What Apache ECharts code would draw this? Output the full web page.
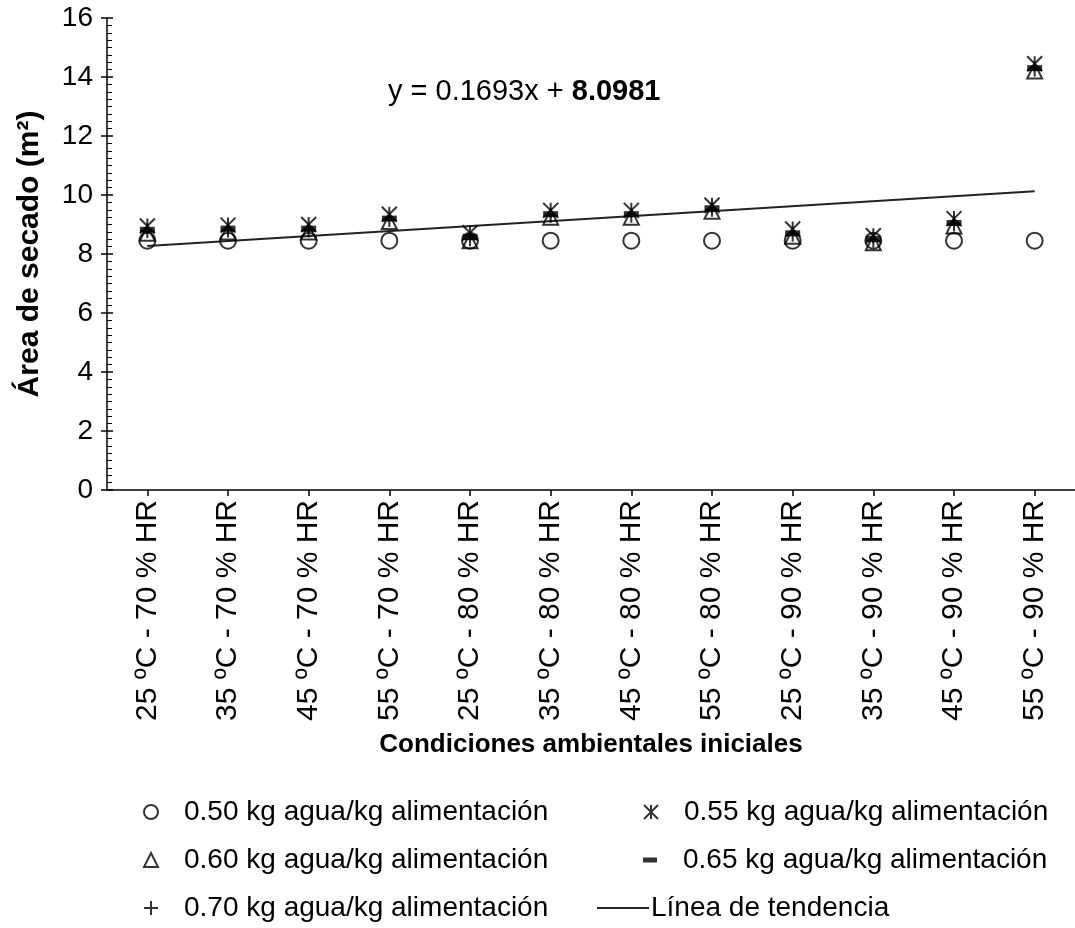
<!DOCTYPE html>
<html>
<head>
<meta charset="utf-8">
<script src="https://cdn.jsdelivr.net/npm/echarts@6/dist/echarts.min.js"></script>
<style>
  html, body { margin: 0; padding: 0; background: #fff; }
  #chart { width: 1075px; height: 928px; }
</style>
</head>
<body>
<div id="chart"></div>
<script>
// categorías (condiciones ambientales)
const categories = [
  '25 ºC - 70 % HR', '35 ºC - 70 % HR', '45 ºC - 70 % HR', '55 ºC - 70 % HR',
  '25 ºC - 80 % HR', '35 ºC - 80 % HR', '45 ºC - 80 % HR', '55 ºC - 80 % HR',
  '25 ºC - 90 % HR', '35 ºC - 90 % HR', '45 ºC - 90 % HR', '55 ºC - 90 % HR'
];
const s050 = [8.45, 8.45, 8.45, 8.45, 8.45, 8.45, 8.45, 8.45, 8.45, 8.45, 8.45, 8.45];
const s055 = [8.95, 8.98, 9.0, 9.35, 8.72, 9.48, 9.48, 9.65, 8.85, 8.62, 9.2, 14.45];
const s060 = [8.7, 8.75, 8.75, 9.1, 8.45, 9.25, 9.25, 9.45, 8.6, 8.38, 8.95, 14.2];
const s065 = [8.82, 8.86, 8.86, 9.2, 8.58, 9.35, 9.35, 9.55, 8.7, 8.52, 9.05, 14.3];
const s070 = [8.78, 8.8, 8.8, 9.15, 8.5, 9.3, 9.3, 9.5, 8.65, 8.45, 9.0, 14.25];
// línea de tendencia: extremos (primera y última categoría)
const trendEnds = [8.27, 10.13];

const names = [
  '0.50 kg agua/kg alimentación',
  '0.55 kg agua/kg alimentación',
  '0.60 kg agua/kg alimentación',
  '0.65 kg agua/kg alimentación',
  '0.70 kg agua/kg alimentación',
  'Línea de tendencia'
];

const FONT = 'Liberation Sans, Arial, sans-serif';
const strokeOnly = { color: 'transparent', borderColor: '#000', borderWidth: 2 };

const chart = echarts.init(document.getElementById('chart'));

function legendAt(name, left, top, extra) {
  return Object.assign({
    data: [name], left: left, top: top, padding: 0,
    itemWidth: 14, itemHeight: 14,
    textStyle: { fontFamily: FONT, fontSize: 28, lineHeight: 28, color: '#000', padding: [0, 0, 0, 21] }
  }, extra || {});
}

chart.setOption({
  animation: false,
  grid: { left: 107, top: 18, width: 977, height: 472 },
  xAxis: {
    type: 'category',
    data: categories,
    name: 'Condiciones ambientales iniciales',
    nameLocation: 'middle',
    nameGap: 242,
    nameTextStyle: { fontFamily: FONT, fontSize: 26, fontWeight: 'bold', color: '#000' },
    axisLine: { lineStyle: { color: '#000', width: 1.5 } },
    axisTick: { show: true, alignWithLabel: true, length: 6, lineStyle: { color: '#000', width: 1.5 } },
    axisLabel: { rotate: 90, margin: 10, fontFamily: FONT, fontSize: 30, color: '#000' },
    splitLine: { show: false }
  },
  yAxis: [{
    type: 'value', min: 0, max: 16, interval: 2,
    name: 'Área de secado (m²)',
    nameLocation: 'middle',
    nameGap: 62,
    nameTextStyle: { fontFamily: FONT, fontSize: 30, fontWeight: 'bold', color: '#000' },
    axisLine: { show: true, lineStyle: { color: '#000', width: 1.5 } },
    axisTick: { show: true, length: 6, lineStyle: { color: '#000', width: 1.5 } },
    axisLabel: { margin: 14, fontFamily: FONT, fontSize: 28, color: '#000' },
    splitLine: { show: false }
  }, {
    type: 'value', min: 0, max: 16, interval: 2, position: 'left', offset: 0,
    axisLine: { show: false },
    axisTick: { show: true, inside: true, length: 6, lineStyle: { color: '#000', width: 1.5 } },
    minorTick: { show: true, splitNumber: 8, length: 5, lineStyle: { color: '#000', width: 1 } },
    axisLabel: { show: false },
    splitLine: { show: false }
  }],
  legend: [
    legendAt(names[0], 143, 798),
    legendAt(names[1], 643, 798),
    legendAt(names[2], 143, 846),
    legendAt(names[3], 643, 846, { itemHeight: 5 }),
    legendAt(names[4], 143, 894),
    legendAt(names[5], 597, 894, {
      data: [{ name: names[5], icon: 'rect' }],
      itemWidth: 52, itemHeight: 2,
      textStyle: { fontFamily: FONT, fontSize: 28, lineHeight: 28, color: '#000', padding: [0, 0, 0, -3] }
    })
  ],
  graphic: [{
    type: 'text', left: 388, top: 77,
    style: {
      text: 'y = 0.1693x + {b|8.0981}',
      font: '29px ' + FONT, fill: '#000',
      rich: { b: { fontFamily: FONT, fontSize: 29, fontWeight: 'bold', fill: '#000' } }
    }
  }],
  series: [
    { name: names[0], type: 'scatter', data: s050, symbol: 'circle', symbolSize: 16, itemStyle: strokeOnly },
    { name: names[1], type: 'scatter', data: s055, symbol: 'path://M0,0 L10,10 M10,0 L0,10 M5,0 L5,10', symbolSize: 15, itemStyle: strokeOnly },
    { name: names[2], type: 'scatter', data: s060, symbol: 'triangle', symbolSize: 15, itemStyle: strokeOnly },
    { name: names[3], type: 'scatter', data: s065, symbol: 'rect', symbolSize: [15, 6], itemStyle: { color: '#000' } },
    { name: names[4], type: 'scatter', data: s070, symbol: 'path://M5,0 L5,10 M0,5 L10,5', symbolSize: 14, itemStyle: strokeOnly },
    {
      name: names[5], type: 'line', symbol: 'none',
      data: [[0, trendEnds[0]], [categories.length - 1, trendEnds[1]]],
      lineStyle: { color: '#222', width: 2 }, itemStyle: { color: '#222' }, z: 1
    }
  ]
});
</script>
</body>
</html>
